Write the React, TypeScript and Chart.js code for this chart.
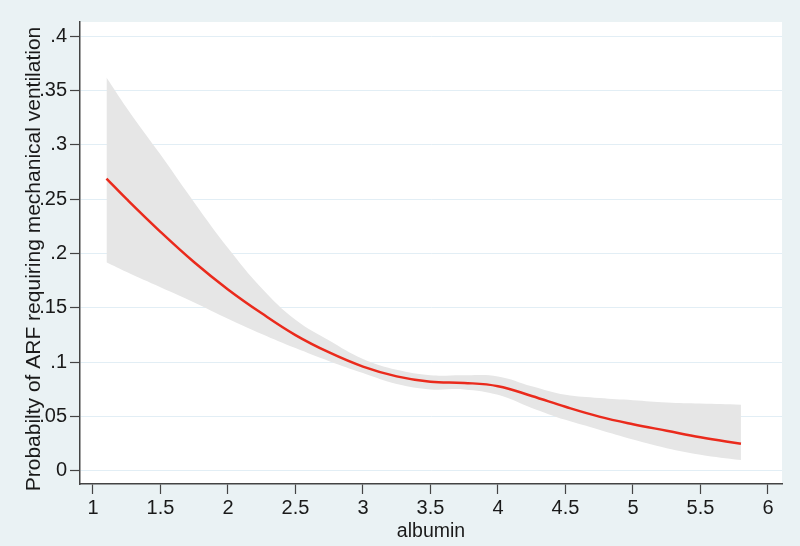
import React, { useEffect, useRef } from "react";
import { Chart, registerables } from "chart.js";

Chart.register(...registerables);

const albumin = [1.1, 1.25, 1.5, 1.75, 2, 2.25, 2.5, 2.75, 3, 3.25, 3.5, 3.75, 4, 4.25, 4.5, 4.75, 5, 5.25, 5.5, 5.8];
const fitted = [0.269, 0.25, 0.22, 0.192, 0.167, 0.145, 0.125, 0.109, 0.096, 0.087, 0.082, 0.081, 0.078, 0.069, 0.059, 0.05, 0.043, 0.037, 0.031, 0.025];
const upperCI = [0.362, 0.334, 0.291, 0.247, 0.205, 0.168, 0.139, 0.12, 0.103, 0.093, 0.088, 0.088, 0.087, 0.078, 0.07, 0.067, 0.065, 0.063, 0.062, 0.061];
const lowerCI = [0.192, 0.183, 0.169, 0.155, 0.14, 0.126, 0.113, 0.101, 0.09, 0.08, 0.075, 0.075, 0.07, 0.058, 0.047, 0.038, 0.029, 0.021, 0.015, 0.01];
const xTicks = [1, 1.5, 2, 2.5, 3, 3.5, 4, 4.5, 5, 5.5, 6];
const yTicks = [0, 0.05, 0.1, 0.15, 0.2, 0.25, 0.3, 0.35, 0.4];
const xTitle = "albumin";
const yTitle = "Probabilty of ARF requiring mechanical ventilation";

const FONT = "'Liberation Sans', Arial, Helvetica, sans-serif";

const fmtY = (v: number) => {
  if (Math.abs(v) < 1e-9) return "0";
  const s = String(Math.round(v * 100) / 100);
  return s.replace(/^0\./, ".");
};

export default function App() {
  const ref = useRef<HTMLCanvasElement | null>(null);
  useEffect(() => {
    document.body.style.margin = "0";
    const canvas = ref.current!;
    const bgPlugin = {
      id: "bg",
      beforeDraw(chart: any) {
        const { ctx, chartArea } = chart;
        ctx.save();
        ctx.fillStyle = "#eaf2f4";
        ctx.fillRect(0, 0, chart.width, chart.height);
        ctx.fillStyle = "#ffffff";
        ctx.fillRect(chartArea.left, chartArea.top, chartArea.right - chartArea.left, chartArea.bottom - chartArea.top);
        ctx.restore();
      },
      afterDraw(chart: any) {
        const { ctx, chartArea } = chart;
        ctx.save();
        ctx.fillStyle = "#1a1a1a";
        ctx.textAlign = "center";
        ctx.textBaseline = "alphabetic";
        ctx.font = `19.5px ${FONT}`;
        ctx.fillText(xTitle, (chartArea.left + chartArea.right) / 2, 537);
        ctx.font = `21px ${FONT}`;
        ctx.translate(40, 259);
        ctx.rotate(-Math.PI / 2);
        ctx.fillText(yTitle, 0, 0);
        ctx.restore();
      },
    };
    const chart = new Chart(canvas, {
      type: "line",
      data: {
        datasets: [
          {
            label: "lower",
            data: albumin.map((x, i) => ({ x, y: lowerCI[i] })),
            borderWidth: 0,
            borderColor: "rgba(0,0,0,0)",
            pointRadius: 0,
            fill: false,
            tension: 0.4,
            order: 2,
          },
          {
            label: "upper",
            data: albumin.map((x, i) => ({ x, y: upperCI[i] })),
            borderWidth: 0,
            borderColor: "rgba(0,0,0,0)",
            backgroundColor: "#e6e6e6",
            pointRadius: 0,
            fill: "-1",
            tension: 0.4,
            order: 1,
          },
          {
            label: "fit",
            data: albumin.map((x, i) => ({ x, y: fitted[i] })),
            borderWidth: 2.5,
            borderColor: "#ea2a1c",
            pointRadius: 0,
            fill: false,
            tension: 0.4,
            order: 0,
          },
        ],
      },
      options: {
        responsive: false,
        animation: false,
        layout: { padding: { top: 22, right: 18, left: 0, bottom: 0 } },
        plugins: { legend: { display: false }, tooltip: { enabled: false } },
        scales: {
          x: {
            type: "linear",
            min: 0.904,
            max: 6.104,
            afterFit(scale: any) {
              scale.height = 62;
            },
            afterBuildTicks(scale: any) {
              scale.ticks = xTicks.map((v) => ({ value: v }));
            },
            ticks: {
              color: "#1a1a1a",
              font: { family: FONT, size: 20 },
              padding: 2,
              maxRotation: 0,
              autoSkip: false,
              callback: (v: any) => String(v),
            },
            grid: {
              drawOnChartArea: false,
              drawTicks: true,
              tickLength: 10,
              tickColor: "#444",
              tickWidth: 1.2,
            },
            border: { display: true, color: "#444", width: 1.5 },
          },
          y: {
            type: "linear",
            min: -0.012,
            max: 0.413,
            afterFit(scale: any) {
              scale.width = 80;
            },
            afterBuildTicks(scale: any) {
              scale.ticks = yTicks.map((v) => ({ value: v }));
            },
            ticks: {
              color: "#1a1a1a",
              font: { family: FONT, size: 20 },
              padding: 3,
              autoSkip: false,
              callback: (v: any) => fmtY(Number(v)),
            },
            grid: {
              drawOnChartArea: true,
              color: "#e2eef5",
              lineWidth: 1,
              drawTicks: true,
              tickLength: 10,
              tickColor: "#444",
              tickWidth: 1.2,
            },
            border: { display: true, color: "#444", width: 1.5 },
          },
        },
      },
      plugins: [bgPlugin],
    } as any);
    return () => chart.destroy();
  }, []);
  return <canvas ref={ref} width={800} height={546} style={{ display: "block" }} />;
}
